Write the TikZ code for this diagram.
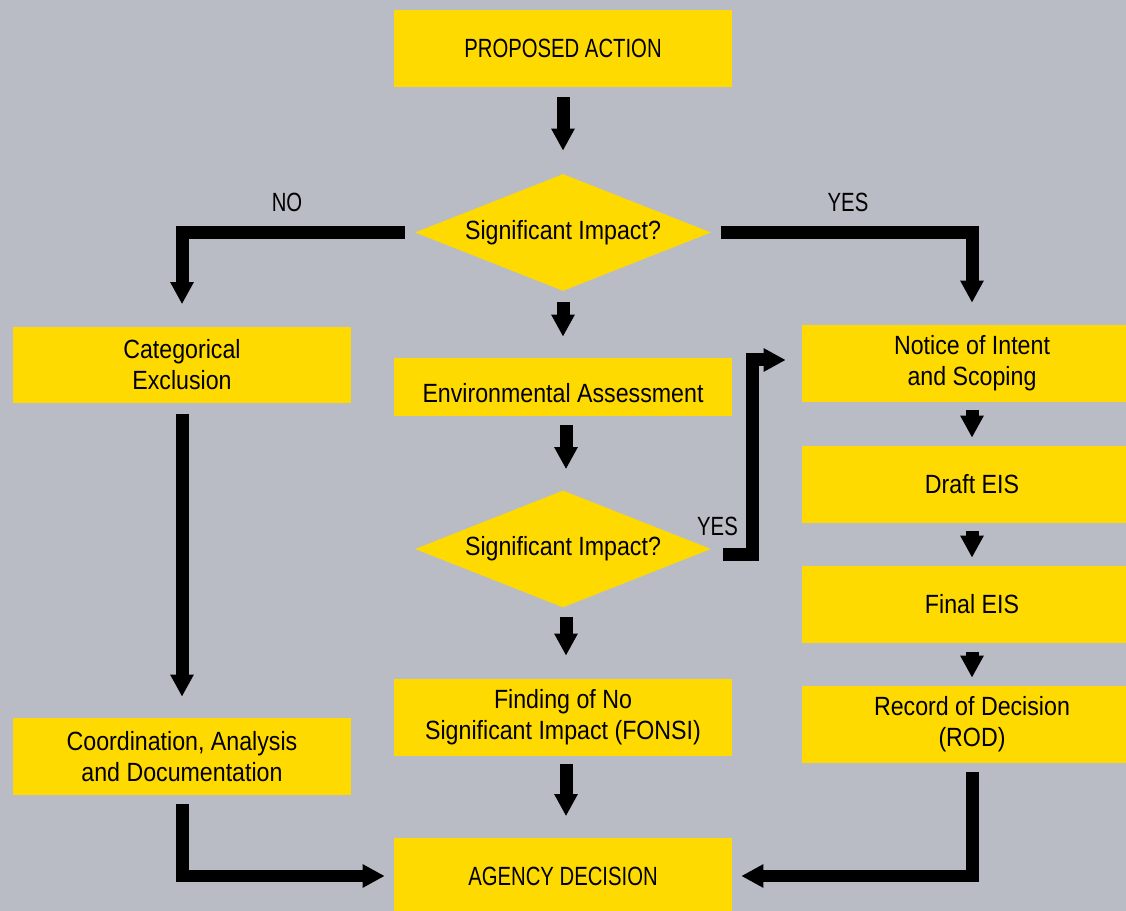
\documentclass[tikz,border=0pt]{standalone}
\usepackage{fontspec}
\setmainfont{Liberation Sans}[FakeStretch=0.88]
\newfontfamily\capsfont{Liberation Sans}[FakeStretch=0.77]
\usetikzlibrary{shapes.geometric,arrows.meta}
\definecolor{bg}{RGB}{185,188,196}
\definecolor{yel}{RGB}{255,218,0}
\begin{document}
\begin{tikzpicture}[x=0.02cm,y=-0.02cm,
  every node/.style={font=\fontsize{15pt}{17.6pt}\selectfont, text=black},
  caps/.style={font=\fontsize{15pt}{17.6pt}\selectfont\capsfont},
  box/.style={fill=yel, inner sep=0pt, align=center, minimum height=1.54cm},
  wbox/.style={box, minimum width=6.76cm},
  rbox/.style={box, minimum width=6.80cm},
  dia/.style={diamond, fill=yel, inner sep=0pt, aspect=2.53, minimum width=5.92cm, minimum height=2.34cm},
  arr/.style={line width=0.26cm, line join=miter, -{Triangle[width=0.44cm,length=0.44cm]}},
  lbl/.style={inner sep=0pt, caps}
]
\clip (0,0) rectangle (1126,911);
\fill[bg] (0,0) rectangle (1126,911);

% nodes
\node[wbox, caps] (pa) at (563,48.5) {PROPOSED ACTION};
\node[dia] (d1) at (563,232.5) {Significant Impact?};
\node[wbox, minimum height=0pt, text height=0.9cm, text depth=0.26cm] (ea) at (563,387) {Environmental Assessment};
\node[dia] (d2) at (563,549) {Significant Impact?};
\node[wbox] (fonsi) at (563,717.5) {Finding of No\\Significant Impact (FONSI)};
\node[wbox, caps] (ag) at (563,876) {AGENCY DECISION};

\node[wbox] (ce) at (182,365) {Categorical\\Exclusion};
\node[wbox] (co) at (182,756.5) {Coordination, Analysis\\and Documentation};

\node[rbox] (ni) at (972,363.5) {Notice of Intent\\and Scoping};
\node[rbox] (de) at (972,484.5) {Draft EIS};
\node[rbox] (fe) at (972,604.5) {Final EIS};
\node[rbox] (rod) at (972,724.5) {Record of Decision\\(ROD)};

\node[lbl] (no) at (287,202.5) {NO};
\node[lbl] (yes1) at (848,202.5) {YES};
\node[lbl] (yes2) at (717.5,526) {YES};

\coordinate (yb) at (752.5,0);

% connectors
\draw[arr, shorten <=0.2cm, shorten >=0.46cm] (pa) -- (d1);
\draw[arr, shorten <=0.22cm, shorten >=0.42cm] (d1) -- (ea);
\draw[arr] ([xshift=0.06cm,yshift=-0.18cm]ea.south) -- ([xshift=0.06cm,yshift=0.42cm]d2.north);
\draw[arr] ([xshift=0.06cm,yshift=-0.18cm]d2.south) -- ([xshift=0.06cm,yshift=0.46cm]fonsi.north);
\draw[arr] ([xshift=0.06cm,yshift=-0.16cm]fonsi.south) -- ([xshift=0.06cm,yshift=0.42cm]ag.north);

\draw[arr] ([xshift=-0.2cm]d1.west) -| ([yshift=0.44cm]ce.north);
\draw[arr] ([xshift=0.2cm]d1.east) -| ([yshift=0.44cm]ni.north);

\draw[arr] ([yshift=-0.2cm]ce.south) -- ([yshift=0.42cm]co.north);
\draw[arr] ([yshift=-0.18cm]co.south) |- ([xshift=-0.18cm]ag.west);
\draw[arr] ([yshift=-0.18cm]rod.south) |- ([xshift=0.18cm]ag.east);

\draw[arr] ([xshift=0.24cm,yshift=-0.12cm]d2.east) -| ([yshift=0.07cm]yb |- ni.west) -- ([xshift=-0.32cm,yshift=0.07cm]ni.west);

\draw[arr] ([yshift=-0.16cm]ni.south) -- ([yshift=0.16cm]de.north);
\draw[arr] ([yshift=-0.16cm]de.south) -- ([yshift=0.16cm]fe.north);
\draw[arr] ([yshift=-0.18cm]fe.south) -- ([yshift=0.16cm]rod.north);
\end{tikzpicture}
\end{document}
